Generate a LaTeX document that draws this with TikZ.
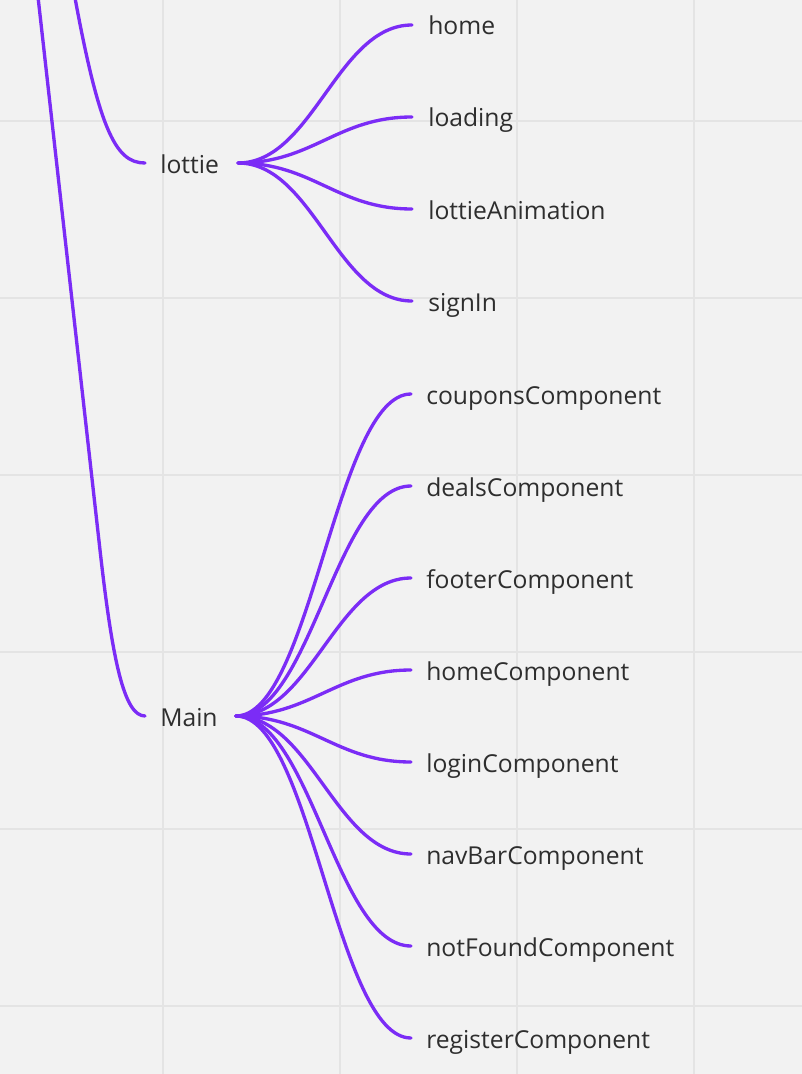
\documentclass[tikz,border=0pt]{standalone}
\usepackage{fontspec}
\setmainfont{Open Sans}
\definecolor{bg}{HTML}{F2F2F2}
\definecolor{gridc}{HTML}{E4E4E4}
\definecolor{edge}{HTML}{7B2CF6}
\definecolor{txt}{HTML}{2E2E2E}
\begin{document}
\begin{tikzpicture}[x=0.75pt,y=-0.75pt,
  lbl/.style={anchor=base west,inner sep=0pt,text=txt,font=\fontsize{18.5}{20}\selectfont},
  link/.style={draw=edge,line width=2.5pt,line cap=round},
  gridline/.style={draw=gridc,line width=1.1pt}]
\useasboundingbox (0,0) rectangle (802,1074);
\fill[bg] (0,0) rectangle (802,1074);
\clip (0,0) rectangle (802,1074);
\foreach \gx in {163,340,517,694} \draw[gridline] (\gx,0) -- (\gx,1074);
\foreach \gy in {121,298,475,652,829,1006} \draw[gridline] (0,\gy) -- (802,\gy);

% off-screen parents
\coordinate (topA) at (35,-30);
\coordinate (topB) at (70,-30);

% lottie
\coordinate (lottie-in) at (145,163);
\coordinate (lottie-out) at (238,163);
\node[lbl] (lottie) at (160,173) {lottie};
\draw[link] (topB) .. controls (98,130) and (115,163) .. (lottie-in);

% Main
\coordinate (main-in) at (145,716);
\coordinate (main-out) at (236,716);
\coordinate (mainbend) at (100,550);
\node[lbl] (main) at (160,726) {Main};
\draw[link] (topA) -- (mainbend) .. controls (112.4,660) and (124,716) .. (main-in);

% lottie children
\foreach \name/\yy in {home/25,loading/117,lottieAnimation/209,signIn/301}{
  \coordinate (\name-in) at (412,\yy);
  \node[lbl] (\name) at (428,\yy+10) {\name};
  \draw[link] (lottie-out) .. controls +(75,0) and +(-75,0) .. (\name-in);
}

% Main children
\foreach \name/\yy in {couponsComponent/394,dealsComponent/486,footerComponent/578,homeComponent/670,loginComponent/762,navBarComponent/854,notFoundComponent/946,registerComponent/1038}{
  \coordinate (\name-in) at (411,\yy);
  \node[lbl] (\name) at (426,\yy+10) {\name};
  \draw[link] (main-out) .. controls +(75,0) and +(-75,0) .. (\name-in);
}
\end{tikzpicture}
\end{document}
